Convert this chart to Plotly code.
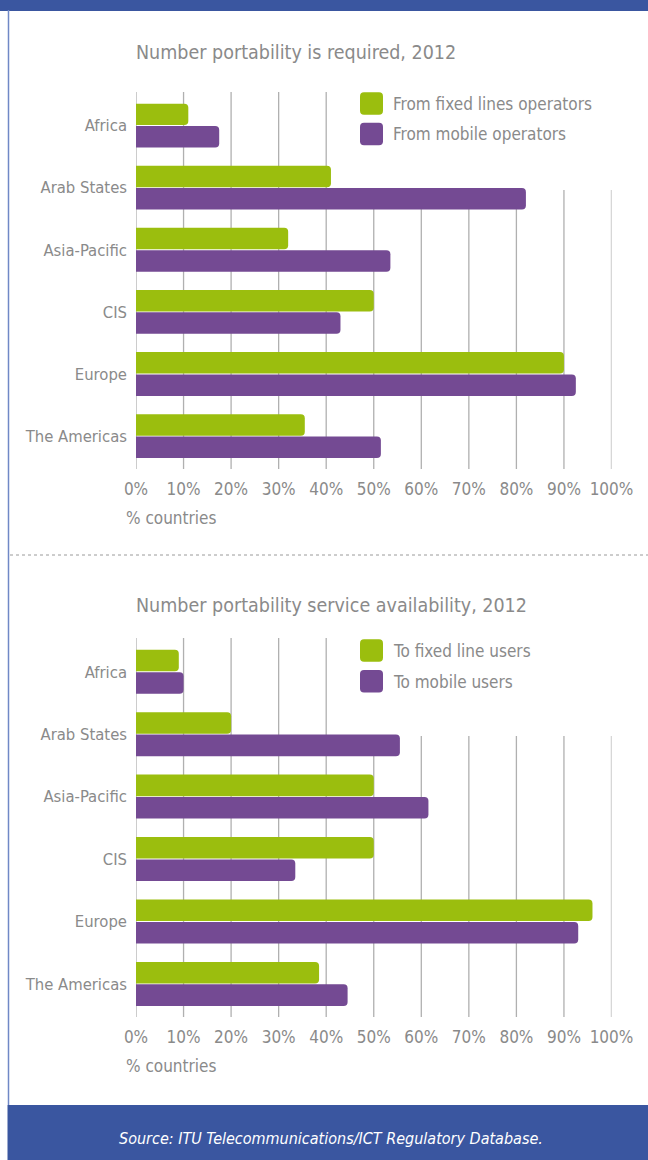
import plotly.graph_objects as go

# ---- data -------------------------------------------------------------
regions = ["Africa", "Arab States", "Asia-Pacific", "CIS", "Europe", "The Americas"]

required_fixed = [11, 41, 32, 50, 90, 35.5]
required_mobile = [17.5, 82, 53.5, 43, 92.5, 51.5]
required_names = ["From fixed lines operators", "From mobile operators"]

service_fixed = [9, 20, 50, 50, 96, 38.5]
service_mobile = [10, 55.5, 61.5, 33.5, 93, 44.5]
service_names = ["To fixed line users", "To mobile users"]

x_ticks = [0, 10, 20, 30, 40, 50, 60, 70, 80, 90, 100]
x_tick_labels = ["0%", "10%", "20%", "30%", "40%", "50%", "60%", "70%", "80%", "90%", "100%"]

titles = ["Number portability is required, 2012",
          "Number portability service availability, 2012"]
axis_caption = "% countries"
source_text = "Source: ITU Telecommunications/ICT Regulatory Database."

# ---- styling ----------------------------------------------------------
W, H = 648, 1160
GREEN = "#9BBE0E"
PURPLE = "#744A93"
BLUE = "#3A56A0"
EDGE = "#7088C6"
TEXT = "#8A8A8A"
GRID = "#B0B0B0"
FONT = "DejaVu Sans Condensed, Liberation Sans Narrow, Arial Narrow, sans-serif"


def px(x):
    return x / W


def py(y):
    return 1 - y / H


def rounded_rect(x0, y0, x1, y1, r):
    # pixel coords -> paper path with rounded corners
    X0, X1 = px(x0), px(x1)
    Y0, Y1 = py(y0), py(y1)
    rx, ry = r / W, r / H
    return (f"M {X0+rx},{Y0} L {X1-rx},{Y0} Q {X1},{Y0} {X1},{Y0-ry} "
            f"L {X1},{Y1+ry} Q {X1},{Y1} {X1-rx},{Y1} L {X0+rx},{Y1} "
            f"Q {X0},{Y1} {X0},{Y1+ry} L {X0},{Y0-ry} Q {X0},{Y0} {X0+rx},{Y0} Z")


fig = go.Figure()

panels = [
    dict(fixed=required_fixed, mobile=required_mobile, names=required_names,
         title=titles[0], top=92, bottom=469, title_y=53, legend_y=(92.3, 122.7),
         cap_y=518, xa="x", ya="y"),
    dict(fixed=service_fixed, mobile=service_mobile, names=service_names,
         title=titles[1], top=638, bottom=1017, title_y=605, legend_y=(639.3, 670),
         cap_y=1066, xa="x2", ya="y2"),
]

shapes = []
annotations = []

x_left, x_right = 136, 611.5

for i, p in enumerate(panels):
    fig.add_trace(go.Bar(y=regions, x=p["fixed"], orientation="h", name=p["names"][0],
                         marker=dict(color=GREEN, cornerradius=4, line=dict(width=0)),
                         xaxis=p["xa"], yaxis=p["ya"], showlegend=False,
                         hoverinfo="x+y"))
    fig.add_trace(go.Bar(y=regions, x=p["mobile"], orientation="h", name=p["names"][1],
                         marker=dict(color=PURPLE, cornerradius=4, line=dict(width=0)),
                         xaxis=p["xa"], yaxis=p["ya"], showlegend=False,
                         hoverinfo="x+y"))

    suffix = "" if i == 0 else "2"
    fig.layout["xaxis" + suffix] = dict(
        domain=[px(x_left), px(x_right)], range=[0, 100], anchor=p["ya"],
        tickvals=x_ticks, ticktext=x_tick_labels, showgrid=False, zeroline=False,
        showline=False, ticks="", ticklabelstandoff=8, automargin=False,
        tickfont=dict(family=FONT, size=17, color=TEXT), fixedrange=True)
    fig.layout["yaxis" + suffix] = dict(
        domain=[py(p["bottom"]), py(p["top"])], range=[5.53, -0.54],
        anchor=p["xa"], categoryorder="array", categoryarray=regions,
        showgrid=False, zeroline=False, showline=False, ticks="",
        ticklabelstandoff=8, automargin=False,
        tickfont=dict(family=FONT, size=16.5, color=TEXT), fixedrange=True)

    # vertical grid lines
    for t in x_ticks:
        shapes.append(dict(type="line", xref=p["xa"], yref="paper", x0=t, x1=t,
                           y0=py(p["top"]), y1=py(p["bottom"]),
                           line=dict(color=GRID, width=1.3), layer="below"))
    # white panel behind the legend
    shapes.append(dict(type="rect", xref="paper", yref="paper",
                       x0=px(350), x1=px(648), y0=py(p["top"] - 6), y1=py(p["top"] + 98),
                       fillcolor="white", line=dict(width=0), layer="below"))
    # legend swatches + labels
    for color, name, ly in zip([GREEN, PURPLE], p["names"], p["legend_y"]):
        shapes.append(dict(type="path", xref="paper", yref="paper",
                           path=rounded_rect(360, ly, 383, ly + 22.5, 4),
                           fillcolor=color, line=dict(width=0), layer="above"))
        annotations.append(dict(xref="paper", yref="paper", x=px(391), y=py(ly + 11.5),
                                xanchor="left", yanchor="middle", showarrow=False,
                                text=name, font=dict(family=FONT, size=17, color=TEXT)))
    # title and axis caption
    annotations.append(dict(xref="paper", yref="paper", x=px(134), y=py(p["title_y"]),
                            xanchor="left", yanchor="middle", showarrow=False,
                            text=p["title"], font=dict(family=FONT, size=19.5, color=TEXT)))
    annotations.append(dict(xref="paper", yref="paper", x=px(124), y=py(p["cap_y"]),
                            xanchor="left", yanchor="middle", showarrow=False,
                            text=axis_caption, font=dict(family=FONT, size=17, color=TEXT)))

# frame: top band, left edge, dotted separator, footer
shapes += [
    dict(type="rect", xref="paper", yref="paper", x0=0, x1=1, y0=py(11), y1=1,
         fillcolor=BLUE, line=dict(width=0), layer="above"),
    dict(type="line", xref="paper", yref="paper", x0=px(8.5), x1=px(8.5),
         y0=py(1105), y1=py(10), line=dict(color=EDGE, width=1.5), layer="above"),
    dict(type="line", xref="paper", yref="paper", x0=px(10), x1=1,
         y0=py(555), y1=py(555), line=dict(color="#9A9A9A", width=1, dash="dot"),
         layer="above"),
    dict(type="rect", xref="paper", yref="paper", x0=px(7.5), x1=1, y0=0, y1=py(1105),
         fillcolor=BLUE, line=dict(width=0), layer="above"),
]
annotations.append(dict(xref="paper", yref="paper", x=px(331), y=py(1138),
                        xanchor="center", yanchor="middle", showarrow=False,
                        text=f"<i>{source_text}</i>",
                        font=dict(family=FONT, size=16, color="white")))

fig.update_layout(
    template="none",
    width=W, height=H, margin=dict(l=0, r=0, t=0, b=0, pad=0, autoexpand=False),
    paper_bgcolor="white", plot_bgcolor="rgba(0,0,0,0)",
    barmode="group", bargap=0.28, bargroupgap=0.04,
    shapes=shapes, annotations=annotations, showlegend=False,
    font=dict(family=FONT, color=TEXT),
)

fig.write_html("out.html", config={"displayModeBar": False})
